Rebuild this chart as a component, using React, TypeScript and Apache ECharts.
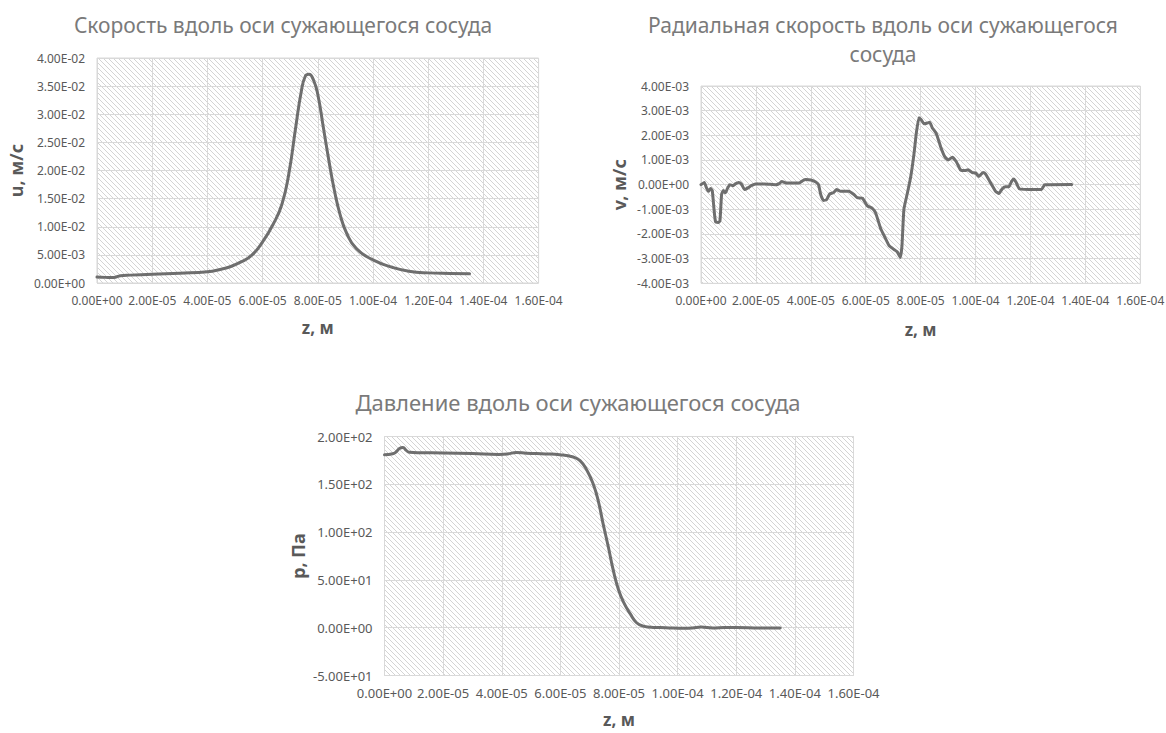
import React, { useEffect, useRef } from 'react';
import * as echarts from 'echarts';

// ---- Chart 1: axial velocity u(z)
const zU = [0, 3e-6, 6e-6, 8.5e-6, 1.2e-5, 2e-5, 3e-5, 4e-5, 4.5e-5, 4.8e-5, 5.2e-5, 5.6e-5, 6e-5, 6.4e-5, 6.7e-5, 6.95e-5, 7.2e-5, 7.4e-5, 7.55e-5, 7.68e-5, 7.85e-5, 8e-5, 8.2e-5, 8.4e-5, 8.6e-5, 8.8e-5, 9.05e-5, 9.4e-5, 1e-4, 1.07e-4, 1.13e-4, 1.2e-4, 1.28e-4, 1.35e-4];
const uVals = [1.05e-3, 1.0e-3, 0.97e-3, 1.3e-3, 1.4e-3, 1.55e-3, 1.75e-3, 2.0e-3, 2.45e-3, 2.85e-3, 3.7e-3, 4.9e-3, 7.3e-3, 10.6e-3, 14e-3, 19.4e-3, 27.7e-3, 34e-3, 36.8e-3, 37.1e-3, 36e-3, 33.5e-3, 27.7e-3, 21.8e-3, 16.5e-3, 12.3e-3, 8.8e-3, 6.1e-3, 4.1e-3, 2.8e-3, 2.1e-3, 1.8e-3, 1.7e-3, 1.65e-3];

// ---- Chart 2: radial velocity v(z)
const zV = [0, 1.2e-6, 2e-6, 2.7e-6, 3.5e-6, 4.1e-6, 4.8e-6, 5.3e-6, 6.3e-6, 6.9e-6, 7.5e-6, 8.1e-6, 8.9e-6, 9.6e-6, 1.05e-5, 1.17e-5, 1.25e-5, 1.37e-5, 1.47e-5, 1.59e-5, 1.71e-5, 1.83e-5, 1.98e-5, 2.31e-5, 2.73e-5, 2.85e-5, 2.94e-5, 3.1e-5, 3.58e-5, 3.7e-5, 3.82e-5, 4e-5, 4.18e-5, 4.28e-5, 4.36e-5, 4.46e-5, 4.58e-5, 4.69e-5, 4.82e-5, 4.94e-5, 5.08e-5, 5.38e-5, 5.57e-5, 5.69e-5, 5.88e-5, 6.06e-5, 6.24e-5, 6.36e-5, 6.55e-5, 6.67e-5, 6.85e-5, 7.03e-5, 7.15e-5, 7.26e-5, 7.32e-5, 7.39e-5, 7.52e-5, 7.64e-5, 7.76e-5, 7.84e-5, 7.94e-5, 8.02e-5, 8.12e-5, 8.22e-5, 8.33e-5, 8.42e-5, 8.57e-5, 8.73e-5, 8.88e-5, 9.0e-5, 9.15e-5, 9.3e-5, 9.45e-5, 9.61e-5, 9.73e-5, 9.88e-5, 1.0e-4, 1.012e-4, 1.027e-4, 1.036e-4, 1.055e-4, 1.073e-4, 1.085e-4, 1.097e-4, 1.109e-4, 1.121e-4, 1.131e-4, 1.139e-4, 1.148e-4, 1.16e-4, 1.24e-4, 1.252e-4, 1.35e-4];
const vVals = [0, 0.09e-3, -0.13e-3, -0.27e-3, -0.16e-3, -0.24e-3, -1.07e-3, -1.5e-3, -1.53e-3, -1.47e-3, -0.4e-3, -0.24e-3, -0.33e-3, -0.16e-3, 0, -0.04e-3, 0.03e-3, 0.09e-3, 0.03e-3, -0.2e-3, -0.13e-3, -0.04e-3, 0.03e-3, 0.03e-3, 0, 0.04e-3, 0.13e-3, 0.07e-3, 0.07e-3, 0.16e-3, 0.21e-3, 0.19e-3, 0.11e-3, 0, -0.4e-3, -0.64e-3, -0.6e-3, -0.37e-3, -0.33e-3, -0.2e-3, -0.27e-3, -0.27e-3, -0.4e-3, -0.53e-3, -0.55e-3, -0.86e-3, -0.96e-3, -1.15e-3, -1.8e-3, -2.07e-3, -2.47e-3, -2.63e-3, -2.73e-3, -2.95e-3, -2.47e-3, -1.0e-3, -0.33e-3, 0.33e-3, 1.27e-3, 2.07e-3, 2.71e-3, 2.63e-3, 2.47e-3, 2.49e-3, 2.53e-3, 2.31e-3, 2.07e-3, 1.53e-3, 1.13e-3, 1.0e-3, 1.11e-3, 0.93e-3, 0.6e-3, 0.57e-3, 0.6e-3, 0.49e-3, 0.47e-3, 0.33e-3, 0.49e-3, 0.44e-3, 0.07e-3, -0.27e-3, -0.36e-3, -0.17e-3, -0.09e-3, -0.09e-3, 0.13e-3, 0.23e-3, 0.09e-3, -0.17e-3, -0.2e-3, 0, 0.01e-3];

// ---- Chart 3: pressure p(z)
const zP = [0, 2.8e-6, 4e-6, 5.1e-6, 6.3e-6, 7.4e-6, 8.5e-6, 1.2e-5, 2e-5, 3e-5, 3.9e-5, 4.2e-5, 4.5e-5, 4.84e-5, 5.5e-5, 5.98e-5, 6.44e-5, 6.67e-5, 6.9e-5, 7.12e-5, 7.29e-5, 7.46e-5, 7.64e-5, 7.81e-5, 7.98e-5, 8.15e-5, 8.38e-5, 8.6e-5, 8.83e-5, 9.17e-5, 9.6e-5, 1.02e-4, 1.05e-4, 1.08e-4, 1.12e-4, 1.16e-4, 1.2e-4, 1.28e-4, 1.35e-4];
const pVals = [181, 182, 184, 187.5, 188.5, 185.5, 183.5, 183, 182.8, 182.2, 181.3, 181.8, 183.3, 182.5, 181.8, 181, 178.5, 174.8, 165, 150.3, 132.9, 108.4, 83.9, 59.4, 40, 27, 14.7, 5.2, 1.7, 0.3, 0, -0.6, -0.3, 0.7, -0.3, 0.2, 0.3, -0.2, -0.3];

// ---- Texts
const titles = [
  'Скорость вдоль оси сужающегося сосуда',
  'Радиальная скорость вдоль оси сужающегося',
  'сосуда',
  'Давление вдоль оси сужающегося сосуда',
];
const yNames = ['u, м/с', 'v, м/с', 'p, Па'];
const xName = 'z, м';

const FONT = '"Noto Sans", "Open Sans", sans-serif';
const LINE = '#6e6e6e';
const GRIDLINE = '#d9d9d9';
const LABEL = '#595959';
const TITLE = '#7a7a7a';

function fmtE(v: number): string {
  if (Math.abs(v) < 1e-12) v = 0;
  const s = v.toExponential(2);
  const [m, e] = s.split('e');
  const sign = e[0] === '-' ? '-' : '+';
  const digits = e.replace(/^[+-]/, '').padStart(2, '0');
  return `${m}E${sign}${digits}`;
}

function makeHatch() {
  const n = 5;
  const c = document.createElement('canvas');
  c.width = n;
  c.height = n;
  const ctx = c.getContext('2d')!;
  ctx.fillStyle = '#ffffff';
  ctx.fillRect(0, 0, n, n);
  ctx.fillStyle = '#d4d4d4';
  for (let i = 0; i < n; i++) ctx.fillRect(i, i, 1, 1);
  return { image: c, repeat: 'repeat', imageWidth: n, imageHeight: n };
}

export default function App() {
  const ref = useRef<HTMLDivElement>(null);
  useEffect(() => {
    if (!ref.current) return;
    const chart = echarts.init(ref.current, null, { renderer: 'svg' });
    const hatch = makeHatch();

    const grids = [
      { left: 97, top: 58, width: 441.6, height: 225 },
      { left: 701, top: 86, width: 439.3, height: 197.3 },
      { left: 384.5, top: 436.5, width: 469, height: 239 },
    ].map((g) => ({
      ...g,
      show: true,
      backgroundColor: hatch,
      borderColor: GRIDLINE,
      borderWidth: 1,
      containLabel: false,
      outerBoundsMode: 'none',
    }));

    const labelSizes = [12, 12, 13];
    const xGaps = [36, 38, 35];
    const yGaps = [72, 73, 78];
    const yRanges = [
      { min: 0, max: 0.04, interval: 0.005 },
      { min: -0.004, max: 0.004, interval: 0.001 },
      { min: -50, max: 200, interval: 50 },
    ];

    const xAxes = [0, 1, 2].map((i) => ({
      type: 'value',
      gridIndex: i,
      min: 0,
      max: 1.6e-4,
      interval: 2e-5,
      axisLine: { show: false, onZero: false },
      axisTick: { show: false },
      splitLine: { show: true, lineStyle: { color: GRIDLINE, width: 1 } },
      axisLabel: {
        formatter: (v: number) => fmtE(v),
        color: LABEL,
        fontSize: labelSizes[i],
        fontFamily: FONT,
        margin: 11,
        showMinLabel: true,
        showMaxLabel: true,
        hideOverlap: false,
      },
      name: xName,
      nameLocation: 'middle',
      nameGap: xGaps[i],
      nameTextStyle: { color: LABEL, fontSize: 17, fontWeight: 'bold', fontFamily: FONT },
    }));

    const yAxes = [0, 1, 2].map((i) => ({
      type: 'value',
      gridIndex: i,
      ...yRanges[i],
      axisLine: { show: false, onZero: false },
      axisTick: { show: false },
      splitLine: { show: true, lineStyle: { color: GRIDLINE, width: 1 } },
      axisLabel: {
        formatter: (v: number) => fmtE(v),
        color: LABEL,
        fontSize: labelSizes[i],
        fontFamily: FONT,
        margin: 12,
      },
      name: yNames[i],
      nameLocation: 'middle',
      nameGap: yGaps[i],
      nameRotate: 90,
      nameTextStyle: { color: LABEL, fontSize: 18, fontWeight: 'bold', fontFamily: FONT },
    }));

    const zip = (xs: number[], ys: number[]) => xs.map((x, k) => [x, ys[k]]);
    const datasets = [zip(zU, uVals), zip(zV, vVals), zip(zP, pVals)];
    const smooth = [0.5, 0.15, 0.5];

    const series = datasets.map((d, i) => ({
      type: 'line',
      xAxisIndex: i,
      yAxisIndex: i,
      data: d,
      showSymbol: false,
      symbol: 'none',
      smooth: smooth[i],
      lineStyle: { color: LINE, width: 3, cap: 'round', join: 'round' },
      z: 5,
    }));

    const titleText = (text: string, x: number, y: number, size: number) => ({
      type: 'text',
      x,
      y,
      style: {
        text,
        fill: TITLE,
        font: `${size}px ${FONT}`,
        align: 'center',
        verticalAlign: 'middle',
        textAlign: 'center',
        textVerticalAlign: 'middle',
      },
    });

    chart.setOption({
      animation: false,
      backgroundColor: '#ffffff',
      grid: grids,
      xAxis: xAxes,
      yAxis: yAxes,
      series,
      graphic: [
        titleText(titles[0], 283, 25, 21),
        titleText(titles[1], 883, 25, 21),
        titleText(titles[2], 883, 54, 21),
        titleText(titles[3], 578, 402, 22),
      ],
    });
    return () => chart.dispose();
  }, []);
  return (
    <div
      ref={ref}
      style={{ position: 'absolute', left: 0, top: 0, width: 1166, height: 733 }}
    />
  );
}
